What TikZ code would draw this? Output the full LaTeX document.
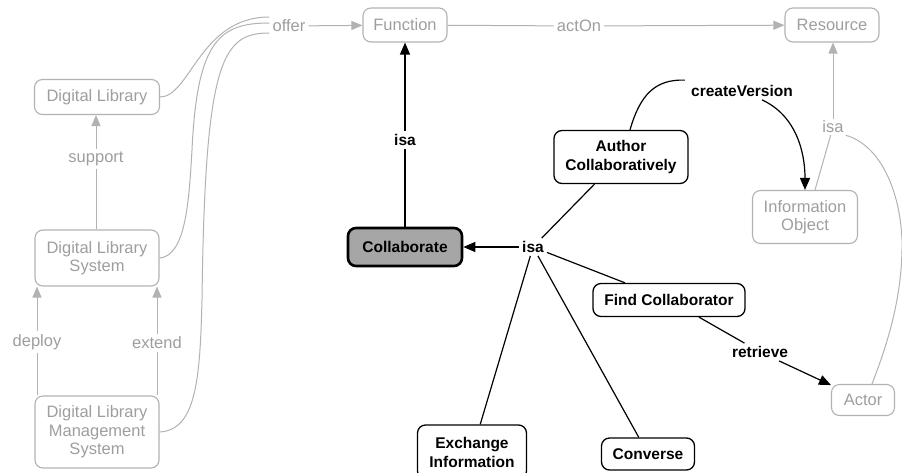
\documentclass[tikz,border=0pt]{standalone}
\usepackage{fontspec}
\setmainfont{Liberation Sans}
\usetikzlibrary{arrows.meta}
\definecolor{gline}{RGB}{178,178,178}
\definecolor{gtext}{RGB}{158,158,158}
\definecolor{cfill}{RGB}{166,166,166}
\begin{document}
\begin{tikzpicture}[x=1pt,y=-1pt,
  box/.style={draw=black, line width=1.3pt, rounded corners=8pt, align=center,
    inner sep=0pt, font=\bfseries\fontsize{15.5}{19}\selectfont},
  gbox/.style={draw=gline, line width=1.1pt, rounded corners=8pt, align=center,
    inner sep=0pt, text=gtext, font=\fontsize{16.5}{18.5}\selectfont},
  lbl/.style={inner sep=3pt, font=\bfseries\fontsize{15.5}{19}\selectfont},
  glbl/.style={inner sep=3pt, text=gtext, font=\fontsize{16.5}{18.5}\selectfont},
  link/.style={line width=1.2pt, draw=black},
  glink/.style={line width=1pt, draw=gline},
  tip/.style={-{Triangle[length=12pt,width=10pt]}},
  gtip/.style={-{Triangle[length=11pt,width=9pt]}, draw=gline, fill=gline},
]
\useasboundingbox (0,0) rectangle (902,472);
\clip (0,0) rectangle (902,472);

% grey context concepts
\node[gbox, minimum width=84pt, minimum height=34pt] (func) at (405,25) {Function};
\node[gbox, minimum width=94pt, minimum height=34pt] (res) at (832,25) {Resource};
\node[gbox, minimum width=125pt, minimum height=35pt] (dl) at (97,97) {Digital Library};
\node[gbox, minimum width=124pt, minimum height=56pt] (dls) at (97,258) {Digital Library\\System};
\node[gbox, minimum width=124pt, minimum height=72pt] (dlms) at (97,432) {Digital Library\\Management\\System};
\node[gbox, minimum width=105pt, minimum height=53pt] (io) at (805,217) {Information\\Object};
\node[gbox, minimum width=63pt, minimum height=31pt] (actor) at (863,400) {Actor};

% collaboration concepts
\node[box, fill=cfill, line width=2.6pt, minimum width=114pt, minimum height=38pt] (collab) at (405,247) {Collaborate};
\node[box, minimum width=134pt, minimum height=53pt] (author) at (621,157) {Author\\Collaboratively};
\node[box, minimum width=152pt, minimum height=33pt] (find) at (669,300) {Find Collaborator};
\node[box, minimum width=109pt, minimum height=54pt] (exch) at (472,452) {Exchange\\Information};
\node[box, minimum width=93pt, minimum height=32pt] (conv) at (648,454) {Converse};

% linking phrases
\node[glbl] (offer) at (289,26) {offer};
\node[glbl] (acton) at (579,26) {actOn};
\node[glbl] (support) at (96,159) {support};
\node[glbl] (deploy) at (37,342) {deploy};
\node[glbl] (extend) at (157,343) {extend};
\node[glbl, inner sep=2pt, fill=white] (isar) at (833,127) {isa};
\node[lbl] (isa1) at (405,140) {isa};
\node[lbl] (isa2) at (533,247) {isa};
\node[lbl] (cv) at (742,91) {createVersion};
\node[lbl] (retr) at (760,352) {retrieve};

% grey connectors
\draw[glink] (dl.east) .. controls (190,97) and (200,17) .. (offer.west |- 0,17);
\draw[glink] (dls.east) .. controls (186,256) and (189,200) .. (192,150)
  .. controls (197,40) and (220,23) .. (offer.west |- 0,23);
\draw[glink] (dlms.east) .. controls (196,430) and (200,380) .. (202,300)
  .. controls (205,60) and (222,33) .. (offer.west |- 0,33);
\draw[glink, gtip] (offer) -- (func);
\draw[glink] (func) -- (acton);
\draw[glink, gtip] (acton) -- (res);
\draw[glink] (dls.north -| support) -- (support);
\draw[glink, gtip] (support) -- (dl.south -| support);
\draw[glink] (dlms.north -| deploy) -- (deploy);
\draw[glink, gtip] (deploy) -- (dls.south -| deploy);
\draw[glink] (dlms.north -| extend) -- (extend);
\draw[glink, gtip] (extend) -- (dls.south -| extend);
\draw[glink] ([xshift=10pt]io.north) -- (isar);
\draw[glink, gtip] (isar) -- (res.south -| isar);
\draw[glink] (isar.south east) .. controls (880,145) and (900,190) .. (902,240)
  .. controls (903,300) and (885,350) .. ([xshift=9pt]actor.north);

% black connectors
\draw[link] (collab) -- (isa1);
\draw[link, tip] (isa1) -- (func.south -| isa1);
\draw[link, tip] (isa2) -- (collab);
\draw[link] (isa2) -- (author);
\draw[link] (isa2) -- (find);
\draw[link] (isa2) -- (exch);
\draw[link] (isa2) -- (conv);
\draw[link] ([xshift=9pt]author.north) .. controls (640,95) and (655,79) .. ([xshift=-3pt,yshift=2pt]cv.north west);
\draw[link, tip] ([xshift=20pt]cv.south) .. controls (795,115) and (805,150) .. (io.north);
\draw[link] (find) -- (retr);
\draw[link, tip] (retr) -- (actor);
\end{tikzpicture}
\end{document}
